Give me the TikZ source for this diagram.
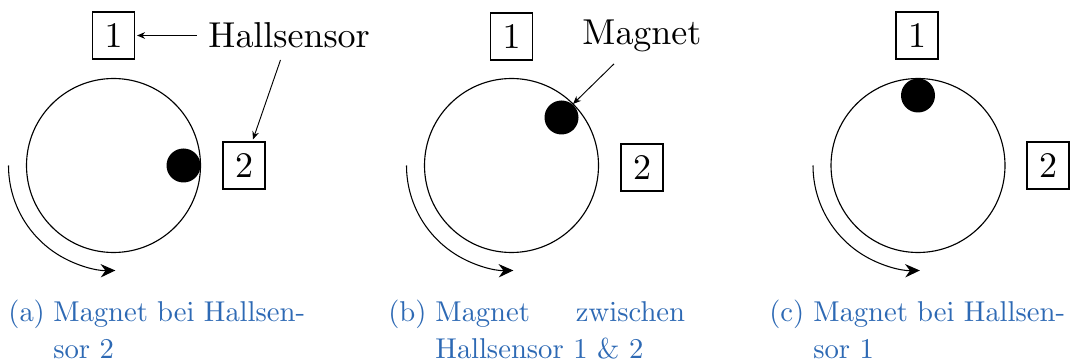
\documentclass[tikz,border=0pt]{standalone}
\usetikzlibrary{arrows.meta,calc}
\definecolor{capblue}{RGB}{45,105,180}
\font\bigfnt=cmr10 at 27pt
\font\capfnt=cmr10 at 21.5pt
\begin{document}
\begin{tikzpicture}[x=0.75pt,y=-0.75pt,
  sensorbox/.style={draw,line width=0.8pt,minimum width=31.5pt,minimum height=35.25pt,inner sep=0pt,font=\bigfnt},
  bigtext/.style={font=\bigfnt,inner sep=8.75pt},
  wheel/.style={line width=0.85pt},
  magnetdot/.style={fill=black},
  pointer/.style={line width=0.7pt,-{Stealth[length=6pt,width=5pt]}},
  turn/.style={line width=0.8pt,-{Stealth[length=11pt,width=10pt]}},
  caplabel/.style={anchor=base west,inner sep=0pt,text=capblue,font=\capfnt},
  captext/.style={anchor=base west,inner sep=0pt,text=capblue,font=\capfnt}]
\useasboundingbox (0,0) rectangle (1073,363);

% ---------- panel (a)
\coordinate (ca) at (113.5,165.5);
\draw[wheel] (ca) circle[radius=87];
\fill[magnetdot] (183.5,165.5) circle[radius=17];
\node[sensorbox] (a1) at (113.5,35.5) {1};
\node[sensorbox] (a2) at (244,165.5) {2};
\node[bigtext,anchor=base west] (hall) at (196.5,48) {Hallsensor};
\draw[pointer] (hall.west) -- ([xshift=1.5pt]a1.east);
\draw[pointer] ([xshift=-6.5pt]hall.south) -- ([xshift=6.75pt,yshift=1.5pt]a2.north);
\draw[turn] ($(ca)+(-105,0)$) arc[start angle=180,end angle=89,radius=105];
\node[caplabel] (la) at (8,321) {(a)};
\node[captext] (ta1) at (53,321) {\hbox to 189pt{Magnet bei Hallsen-}};
\node[captext] (ta2) at (53,358) {sor 2};

% ---------- panel (b)
\coordinate (cb) at (511.5,165.5);
\draw[wheel] (cb) circle[radius=87];
\fill[magnetdot] (561.5,117.5) circle[radius=17];
\coordinate (mb) at ($(cb)+(45:87 and -87)$);
\node[sensorbox] (b1) at (511.5,36.5) {1};
\node[sensorbox] (b2) at (642,167.5) {2};
\node[bigtext,anchor=base west] (mag) at (570.5,45) {Magnet};
\draw[pointer] ([xshift=-21pt]mag.south) -- (mb);
\draw[turn] ($(cb)+(-105,0)$) arc[start angle=180,end angle=89,radius=105];
\node[caplabel] (lb) at (388,321) {(b)};
\node[captext] (tb1) at (435,321) {\hbox to 187.5pt{Magnet zwischen}};
\node[captext] (tb2) at (435,358) {Hallsensor 1 \& 2};

% ---------- panel (c)
\coordinate (cc) at (918,165.5);
\draw[wheel] (cc) circle[radius=87];
\fill[magnetdot] (918,95.5) circle[radius=17];
\node[sensorbox] (c1) at (917,35.5) {1};
\node[sensorbox] (c2) at (1048,165.5) {2};
\draw[turn] ($(cc)+(-105,0)$) arc[start angle=180,end angle=89,radius=105];
\node[caplabel] (lc) at (769,321) {(c)};
\node[captext] (tc1) at (813,321) {\hbox to 189pt{Magnet bei Hallsen-}};
\node[captext] (tc2) at (813,358) {sor 1};
\end{tikzpicture}
\end{document}
